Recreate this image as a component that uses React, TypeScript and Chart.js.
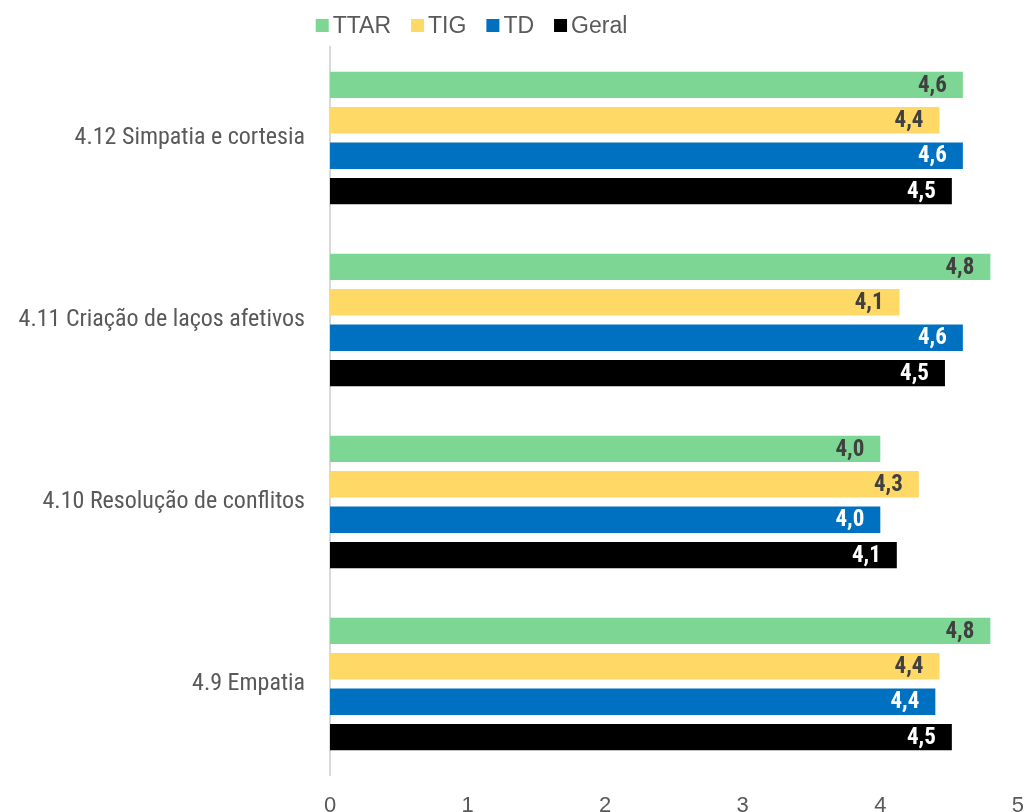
import React, { useEffect, useRef } from "react";
import { Chart, registerables } from "chart.js";

Chart.register(...registerables);

const categories = [
  "4.12 Simpatia e cortesia",
  "4.11 Criação de laços afetivos",
  "4.10 Resolução de conflitos",
  "4.9 Empatia",
];
const seriesNames = ["TTAR", "TIG", "TD", "Geral"];
const ttar = [4.6, 4.8, 4.0, 4.8];
const tig = [4.43, 4.14, 4.28, 4.43];
const td = [4.6, 4.6, 4.0, 4.4];
const geral = [4.52, 4.47, 4.12, 4.52];
const xTicks = [0, 1, 2, 3, 4, 5];

const barColors = ["#7DD694", "#FFD966", "#0070C0", "#000000"];
const valueColors = ["#404040", "#404040", "#FFFFFF", "#FFFFFF"];
const TEXT = "#595959";
const NARROW = '"Liberation Sans Narrow", "Arial Narrow", "Roboto Condensed", sans-serif';
const REGULAR = '"Liberation Sans", Arial, sans-serif';

const valueLabels = {
  id: "valueLabels",
  afterDatasetsDraw(chart: any) {
    const ctx = chart.ctx;
    ctx.save();
    ctx.font = `bold 23px ${NARROW}`;
    ctx.textAlign = "right";
    ctx.textBaseline = "middle";
    chart.data.datasets.forEach((ds: any, i: number) => {
      const meta = chart.getDatasetMeta(i);
      meta.data.forEach((el: any, j: number) => {
        const v = ds.data[j] as number;
        ctx.fillStyle = valueColors[i];
        ctx.fillText(v.toFixed(1).replace(".", ","), el.x - 16, el.y + 1);
      });
    });
    ctx.restore();
  },
};

const topLegend = {
  id: "topLegend",
  afterDraw(chart: any) {
    const ctx = chart.ctx;
    ctx.save();
    ctx.font = `23px ${REGULAR}`;
    const box = 13;
    const gapText = 4;
    const gapItem = 20;
    const widths = seriesNames.map((n) => ctx.measureText(n).width);
    const total =
      widths.reduce((a, w) => a + box + gapText + w, 0) + gapItem * (seriesNames.length - 1);
    let x = 471.5 - total / 2;
    const cy = 25.5;
    ctx.textAlign = "left";
    ctx.textBaseline = "middle";
    seriesNames.forEach((n, i) => {
      ctx.fillStyle = barColors[i];
      ctx.fillRect(x, cy - box / 2, box, box);
      x += box + gapText;
      ctx.fillStyle = TEXT;
      ctx.fillText(n, x, cy + 1);
      x += widths[i] + gapItem;
    });
    ctx.restore();
  },
};

export default function App() {
  const ref = useRef<HTMLCanvasElement | null>(null);

  useEffect(() => {
    if (!ref.current) return;
    const series = [ttar, tig, td, geral];
    const chart = new Chart(ref.current, {
      type: "bar",
      data: {
        labels: categories,
        datasets: series.map((d, i) => ({
          label: seriesNames[i],
          data: d,
          backgroundColor: barColors[i],
          borderWidth: 0,
          categoryPercentage: 0.78,
          barPercentage: 0.74,
        })),
      },
      options: {
        indexAxis: "y",
        animation: false,
        responsive: false,
        devicePixelRatio: 1,
        layout: { padding: { top: 47, right: 9, left: 0, bottom: 0 } },
        plugins: {
          legend: { display: false },
          tooltip: { enabled: false },
        },
        scales: {
          x: {
            min: 0,
            max: 5,
            afterBuildTicks: (s: any) => {
              s.ticks = xTicks.map((v) => ({ value: v }));
            },
            afterFit: (s: any) => {
              s.height = 55;
            },
            grid: { display: false, drawTicks: false },
            border: { display: false },
            ticks: {
              padding: 18,
              color: TEXT,
              font: { family: REGULAR, size: 22 },
              maxRotation: 0,
            },
          },
          y: {
            afterFit: (s: any) => {
              s.width = 330;
            },
            grid: { display: false, drawTicks: false },
            border: { display: true, color: "#D9D9D9", width: 2 },
            ticks: {
              padding: 25,
              color: TEXT,
              font: { family: NARROW, size: 24 },
            },
          },
        },
      },
      plugins: [valueLabels, topLegend],
    });
    return () => chart.destroy();
  }, []);

  return (
    <div
      style={{
        position: "absolute",
        left: 0,
        top: 0,
        width: 1027,
        height: 812,
        overflow: "hidden",
        background: "#fff",
      }}
    >
      <canvas ref={ref} width={1042} height={830} style={{ display: "block" }} />
    </div>
  );
}
